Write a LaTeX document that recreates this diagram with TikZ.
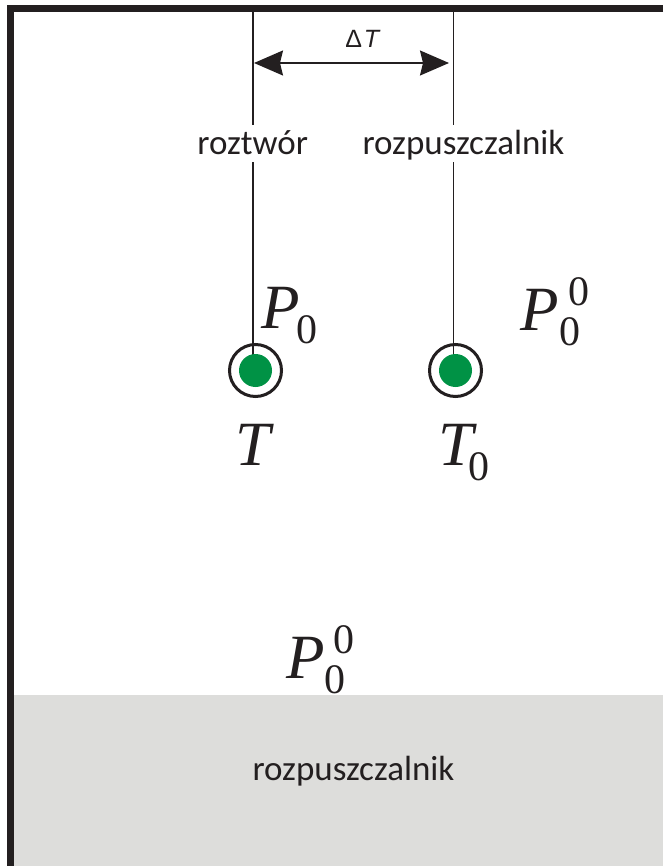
\documentclass[tikz,border=0pt]{standalone}
\usepackage{fontspec}
\setmainfont{Liberation Serif}
\setsansfont{Liberation Sans}
\newfontfamily\calib{Carlito}
\usetikzlibrary{arrows.meta}
\definecolor{ink}{HTML}{231F20}
\definecolor{dotgreen}{RGB}{0,146,69}
\definecolor{solvgray}{HTML}{DDDDDB}
\newcommand\idxlo[1]{\raisebox{-15pt}{\fontsize{42}{46}\selectfont\upshape #1}}
\newcommand\idxhi[1]{\raisebox{25pt}{\fontsize{42}{46}\selectfont\upshape #1}}
\begin{document}
\begin{tikzpicture}[x=1pt,y=-1pt,
  word/.style={font=\calib\fontsize{35}{40}\selectfont, text=ink, inner sep=0pt, anchor=base},
  tag/.style={word, fill=white, text height=30pt, text depth=7pt},
  sym/.style={font=\fontsize{63}{70}\selectfont\itshape, text=ink, inner sep=0pt, anchor=base west},
  wire/.style={draw=ink, line width=1.6pt},
  ring/.style={draw=ink, line width=3pt, fill=white, circle, minimum size=52pt, inner sep=0pt},
  dot/.style={fill=dotgreen, circle, minimum size=33pt, inner sep=0pt},
  dimarrow/.style={{Stealth[length=29pt,width=25pt,inset=3pt]}-{Stealth[length=29pt,width=25pt,inset=3pt]}}]
\useasboundingbox (0,0) rectangle (663,866);
% solvent layer
\fill[solvgray] (14,695) rectangle (663,866);
% vessel walls
\draw[ink, line width=6.7pt, line join=miter] (663,8.3) -- (10.3,8.3) -- (10.3,866);
% thermometers
\coordinate (topL) at (252.7,11.6);
\coordinate (topR) at (453.3,11.6);
\node[ring] (ringL) at (255.5,370.5) {};
\node[ring] (ringR) at (455.5,370.5) {};
\draw[wire] (topL) -- (topL |- ringL.center);
\draw[wire] (topR) -- (topR |- ringR.center);
\node[dot] (dotL) at (ringL.center) {};
\node[dot] (dotR) at (ringR.center) {};
\node[tag] (lblL) at (252.7,155) {roztwór};
\node[tag] (lblR) at (463.5,155) {rozpuszczalnik};
% Delta T arrow
\coordinate (aL) at (254,63);
\coordinate (aR) at (449,63);
\draw[wire, dimarrow] (aL) -- (aR);
\node[font=\sffamily\fontsize{25}{28}\selectfont, text=ink, inner sep=0pt, anchor=base] (dT) at (363,48) {Δ\kern2pt\textit{T}};
% symbols
\node[sym] (P1) at (261.75,328) {P\kern-3.75pt\idxlo{0}};
\node[sym, anchor=base] (T1) at (253,465) {T};
\node[sym] (T2) at (438,465) {T\kern-4.5pt\idxlo{0}};
\node[sym] (P2) at (520.75,330) {P\kern0.25pt\rlap{\idxlo{0}}\kern9pt\idxhi{0}};
\node[sym] (P3) at (286.75,678) {P\kern-0.75pt\rlap{\idxlo{0}}\kern8.5pt\idxhi{0}};
% bottom label
\node[word] (solv) at (353.5,780) {rozpuszczalnik};
\end{tikzpicture}
\end{document}
